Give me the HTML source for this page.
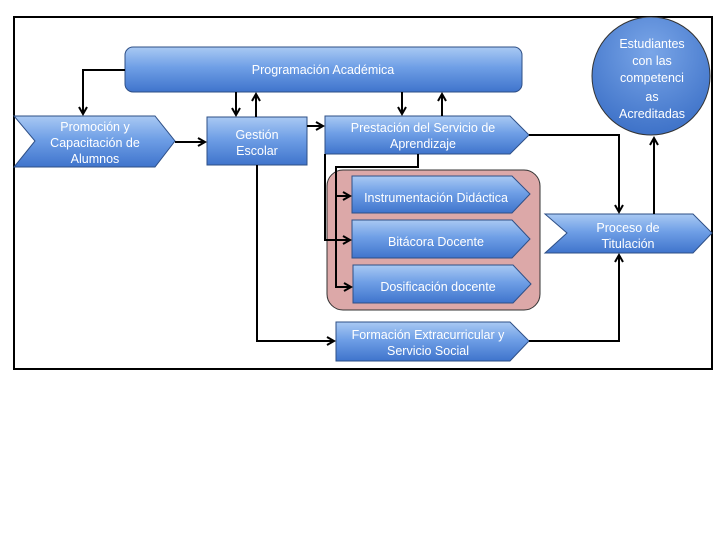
<!DOCTYPE html>
<html><head><meta charset="utf-8"><style>
body{margin:0;background:#fff;}
svg{display:block;font-family:"Liberation Sans",sans-serif;}
text{fill:#fff;font-size:12.5px;text-anchor:middle;}
</style></head><body>
<svg width="720" height="540" viewBox="0 0 720 540">
<defs>
<linearGradient id="g" x1="0" y1="0" x2="0" y2="1">
<stop offset="0" stop-color="#a9c9f3"/><stop offset="0.45" stop-color="#6f9fe6"/><stop offset="1" stop-color="#3f74cc"/>
</linearGradient>
<radialGradient id="rg" cx="0.5" cy="0.3" r="0.7">
<stop offset="0" stop-color="#7aa6e8"/><stop offset="1" stop-color="#3e72c8"/>
</radialGradient>
<marker id="a" markerWidth="10" markerHeight="10" refX="8" refY="5" orient="auto" markerUnits="userSpaceOnUse">
<path d="M1,1 L8,5 L1,9" fill="none" stroke="#000" stroke-width="2"/>
</marker>
</defs>
<rect x="14" y="17" width="698" height="352" fill="#fff" stroke="#000" stroke-width="2"/>
<g stroke="#2e4f86" stroke-width="1" fill="url(#g)">
<rect x="125" y="47" width="397" height="45" rx="8"/>
<path d="M14,116 H155 L175,141 L155,167 H14 L35,141 Z"/>
<rect x="207" y="117" width="100" height="48"/>
<path d="M325,116 H510 L529,135 L510,154 H325 Z"/>
<rect x="327" y="170" width="213" height="140" rx="16" fill="#dca8a8" stroke="#333"/>
<path d="M352,176 H512 L530,194 L512,213 H352 Z"/>
<path d="M352,220 H512 L530,239 L512,258 H352 Z"/>
<path d="M353,265 H513 L531,284 L513,303 H353 Z"/>
<path d="M336,322 H510 L529,341 L510,361 H336 Z"/>
<path d="M545,214 H693 L712,233 L693,253 H545 L567,233 Z"/>
<circle cx="651" cy="76" r="59" fill="url(#rg)" stroke="#333"/>
</g>
<g stroke="#000" stroke-width="2" fill="none">
<path d="M125,70 H83 V114" marker-end="url(#a)"/>
<path d="M236,92 V115" marker-end="url(#a)"/>
<path d="M256,117 V94" marker-end="url(#a)"/>
<path d="M175,142 H205" marker-end="url(#a)"/>
<path d="M307,126 H323" marker-end="url(#a)"/>
<path d="M402,92 V114" marker-end="url(#a)"/>
<path d="M442,116 V94" marker-end="url(#a)"/>
<path d="M529,135 H619 V212" marker-end="url(#a)"/>
<path d="M529,341 H619 V255" marker-end="url(#a)"/>
<path d="M654,214 V138" marker-end="url(#a)"/>
<path d="M257,165 V341 H334" marker-end="url(#a)"/>
<path d="M418,154 V167 H336 V287 H351" marker-end="url(#a)"/>
<path d="M336,196 H350" marker-end="url(#a)"/>
<path d="M325,154 V240 H350" marker-end="url(#a)"/>
</g>
<text x="323" y="74">Programación Académica</text>
<text x="95" y="131">Promoción y</text>
<text x="95" y="147">Capacitación de</text>
<text x="95" y="163">Alumnos</text>
<text x="257" y="139">Gestión</text>
<text x="257" y="155">Escolar</text>
<text x="423" y="132">Prestación del Servicio de</text>
<text x="423" y="148">Aprendizaje</text>
<text x="436" y="202">Instrumentación Didáctica</text>
<text x="436" y="246">Bitácora Docente</text>
<text x="438" y="291">Dosificación docente</text>
<text x="428" y="339">Formación Extracurricular y</text>
<text x="428" y="355">Servicio Social</text>
<text x="628" y="232">Proceso de</text>
<text x="628" y="248">Titulación</text>
<text x="652" y="48">Estudiantes</text>
<text x="652" y="65">con las</text>
<text x="652" y="82">competenci</text>
<text x="652" y="101">as</text>
<text x="652" y="118">Acreditadas</text>
</svg>
</body></html>
